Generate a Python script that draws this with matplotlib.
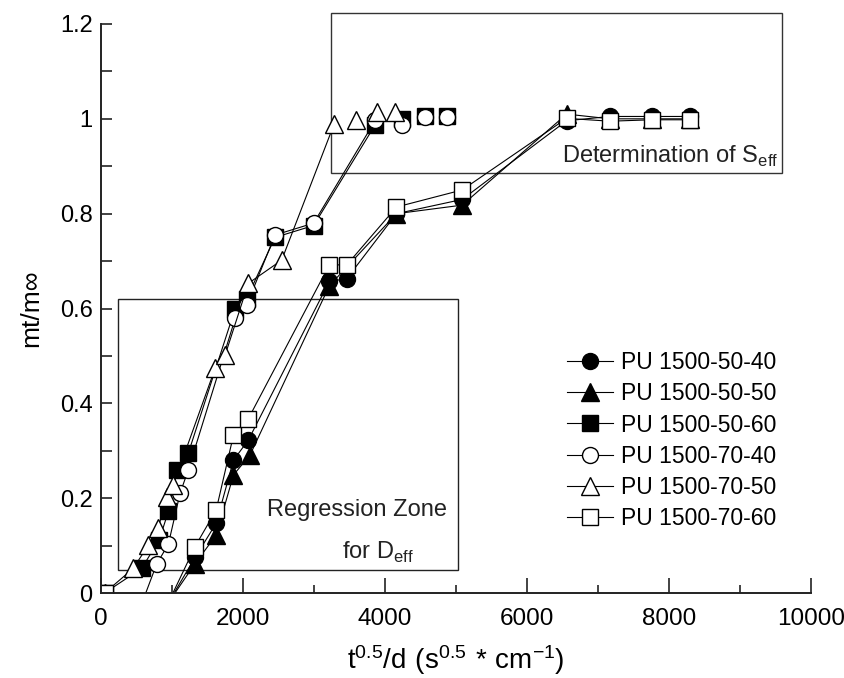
import numpy as np
import matplotlib
matplotlib.use('Agg')
import matplotlib.pyplot as plt
from matplotlib.patches import Rectangle
from matplotlib.ticker import MultipleLocator

plt.rcParams['font.family'] = ['Liberation Sans', 'DejaVu Sans']

# series: x = t^0.5/d, y = mt/m_inf  (negative start values sit below the axis and are clipped)
labels = ['PU 1500-50-40', 'PU 1500-50-50', 'PU 1500-50-60',
          'PU 1500-70-40', 'PU 1500-70-50', 'PU 1500-70-60']

x_50_40 = [950, 1325, 1622, 1866, 2077, 3216, 3462, 4161, 5087, 6558, 7169, 7757, 8293]
y_50_40 = [-0.02, 0.075, 0.147, 0.280, 0.323, 0.657, 0.663, 0.800, 0.830, 0.996, 1.005, 1.005, 1.005]

x_50_50 = [950, 1325, 1622, 1866, 2099, 3216, 4161, 5087, 6558, 7169, 7757, 8293]
y_50_50 = [-0.02, 0.062, 0.122, 0.249, 0.291, 0.648, 0.800, 0.818, 1.010, 1.000, 1.000, 1.000]

x_50_60 = [50, 573, 820, 949, 1066, 1230, 1890, 2052, 2451, 2995, 3864]
y_50_60 = [0.0, 0.052, 0.112, 0.172, 0.260, 0.295, 0.600, 0.621, 0.750, 0.775, 0.988]
x_50_60_end = [4235, 4563, 4869]
y_50_60_end = [1.000, 1.005, 1.005]

x_70_40 = [50, 580, 784, 949, 1113, 1230, 1890, 2052, 2451, 2995, 3864]
y_70_40 = [0.0, -0.02, 0.061, 0.103, 0.210, 0.260, 0.579, 0.607, 0.755, 0.780, 0.997]
x_70_40_end = [4235, 4563, 4869]
y_70_40_end = [0.987, 1.003, 1.003]

x_70_50 = [50, 455, 667, 808, 925, 1019, 1608, 1749, 2075, 2545, 3286]
y_70_50 = [0.0, 0.052, 0.101, 0.138, 0.203, 0.228, 0.474, 0.502, 0.653, 0.702, 0.990]
x_70_50_end = [3597, 3888, 4141]
y_70_50_end = [0.998, 1.015, 1.015]

x_70_60 = [950, 1325, 1622, 1866, 2077, 3216, 3462, 4161, 5087, 6558, 7169, 7757, 8293]
y_70_60 = [-0.02, 0.098, 0.175, 0.333, 0.368, 0.692, 0.692, 0.814, 0.850, 1.001, 0.995, 0.998, 0.998]
x_70_60_0 = [50]
y_70_60_0 = [0.0]

fig = plt.figure(figsize=(8.44, 6.78), dpi=100)
ax = fig.add_axes([101/844, 85/678, 710/844, 569/678])

ms = 11.5
kw = dict(color='black', lw=0.8, mec='black', mew=1.0)
ax.plot(x_50_40, y_50_40, marker='o', ms=ms, mfc='black', label=labels[0], **kw)
ax.plot(x_50_50, y_50_50, marker='^', ms=ms+1, mfc='black', label=labels[1], **kw)
ax.plot(x_50_60, y_50_60, marker='s', ms=ms, mfc='black', label=labels[2], **kw)
ax.plot(x_50_60_end, y_50_60_end, marker='s', ms=ms, mfc='black', ls='none', mec='black')
ax.plot(x_70_40, y_70_40, marker='o', ms=ms, mfc='white', label=labels[3], **kw)
ax.plot(x_70_40_end, y_70_40_end, marker='o', ms=ms, mfc='white', ls='none', mec='black')
ax.plot(x_70_50, y_70_50, marker='^', ms=ms+1, mfc='white', label=labels[4], **kw)
ax.plot(x_70_50_end, y_70_50_end, marker='^', ms=ms+1, mfc='white', ls='none', mec='black')
ax.plot(x_70_60, y_70_60, marker='s', ms=ms, mfc='white', label=labels[5], **kw)
ax.plot(x_70_60_0, y_70_60_0, marker='s', ms=ms, mfc='white', ls='none', mec='black')

# highlighted zones
ax.add_patch(Rectangle((3235, 0.886), 6355, 0.337, fill=False, ec='#333333', lw=1.0, clip_on=False))
ax.add_patch(Rectangle((235, 0.0485), 4800, 0.5725, fill=False, ec='#222222', lw=1.0))
ax.text(9535, 0.921, r'Determination of S$_{\mathregular{eff}}$', fontsize=17,
        ha='right', va='center', color='#222222')
ax.text(4873, 0.175, 'Regression Zone', fontsize=17, ha='right', va='center', color='#222222')
ax.text(3394, 0.086, r'for D$_{\mathregular{eff}}$', fontsize=17, ha='left', va='center', color='#222222')

ax.set_xlim(0, 10000)
ax.set_ylim(0, 1.2)
ax.xaxis.set_major_locator(MultipleLocator(2000))
ax.xaxis.set_minor_locator(MultipleLocator(1000))
ax.yaxis.set_minor_locator(MultipleLocator(0.1))
ax.set_yticks([0, 0.2, 0.4, 0.6, 0.8, 1.0, 1.2])
ax.set_yticklabels(['0', '0.2', '0.4', '0.6', '0.8', '1', '1.2'])
ax.tick_params(which='both', direction='in', color='#222222', width=1.2)
ax.tick_params(axis='x', which='major', length=11, labelsize=17.5, pad=11)
ax.tick_params(axis='x', which='minor', length=6)
ax.tick_params(axis='y', which='both', length=8, labelsize=17, pad=6)
for side in ['top', 'right']:
    ax.spines[side].set_visible(False)
for side in ['left', 'bottom']:
    ax.spines[side].set_linewidth(1.4)
    ax.spines[side].set_color('#222222')

ax.set_xlabel(r'$\mathregular{t^{0.5}/d\ (s^{0.5}\ {*}\ cm^{-1})}$', fontsize=20, labelpad=9)
ax.set_ylabel('mt/m\u221e', fontsize=19, labelpad=12)

ax.legend(loc='upper left', bbox_to_anchor=(567/844, (678-351)/678), bbox_transform=fig.transFigure,
          frameon=False, fontsize=16.5, handlelength=2.0, handletextpad=0.35,
          labelspacing=0.36, borderpad=0, borderaxespad=0, numpoints=1)

fig.savefig('out.png', dpi=100)
